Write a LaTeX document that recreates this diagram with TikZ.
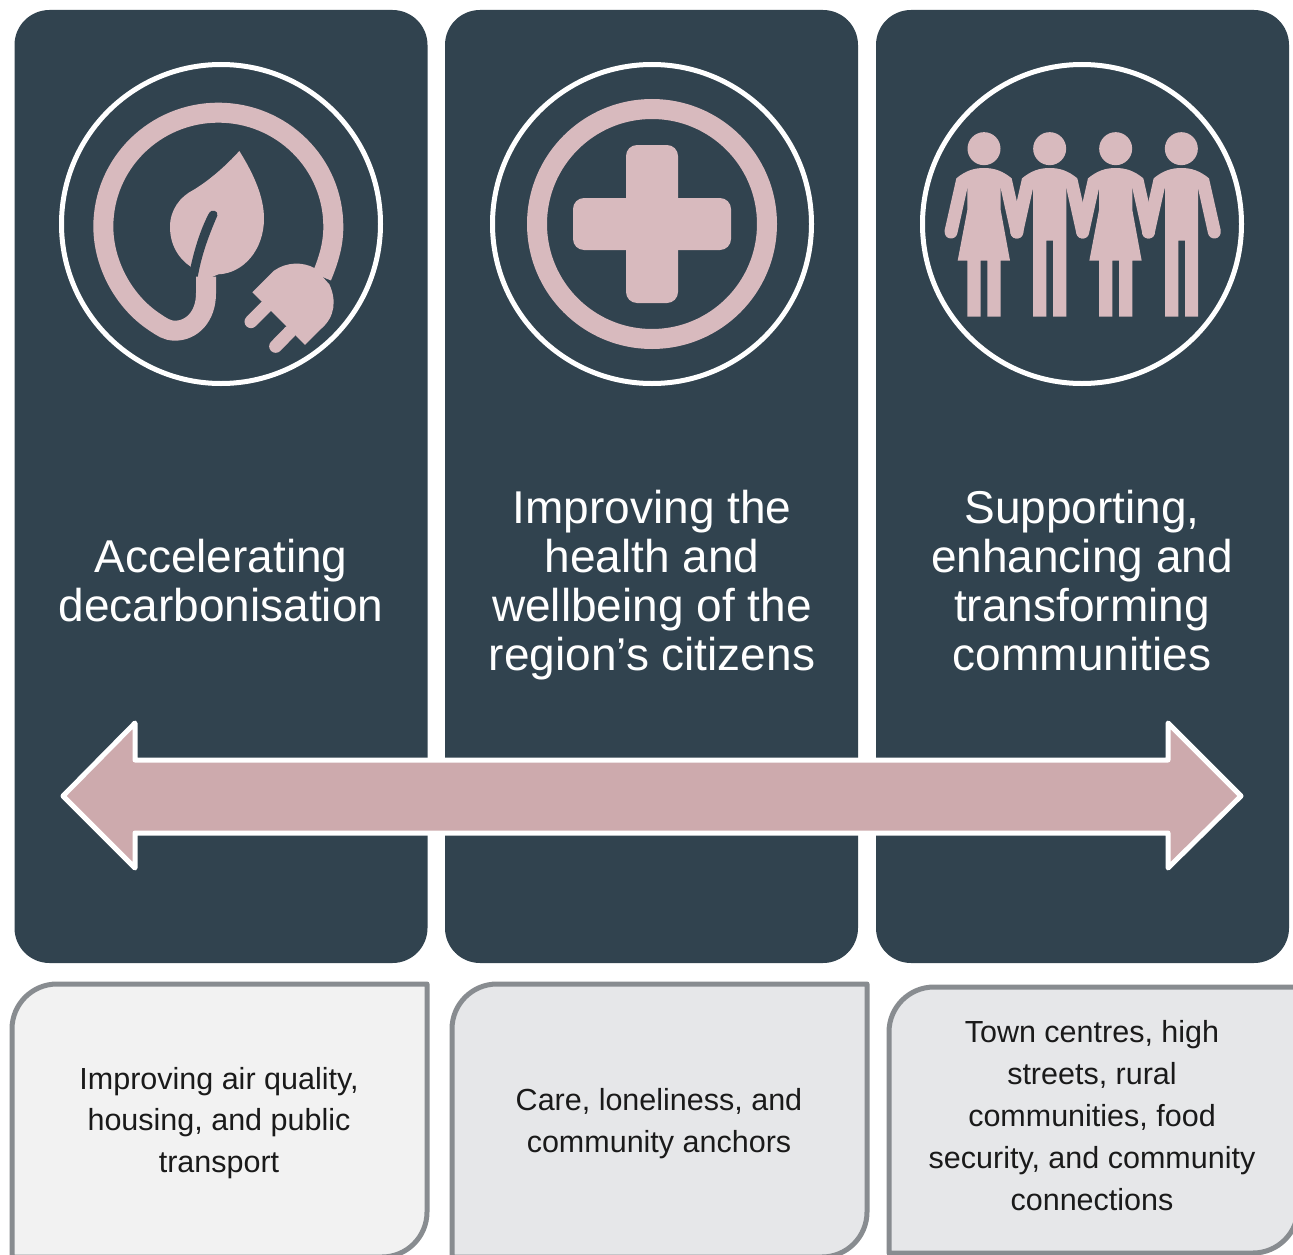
\documentclass[tikz,border=0pt]{standalone}
\usepackage{fontspec}
\setmainfont{Liberation Sans}
\definecolor{paneldark}{HTML}{31434F}
\definecolor{iconpink}{HTML}{D8BABE}
\definecolor{arrowpink}{HTML}{CDAAAD}
\definecolor{boxedge}{HTML}{888C90}
\definecolor{boxone}{HTML}{F2F2F2}
\definecolor{boxtwo}{HTML}{E6E7E9}
\definecolor{inktext}{HTML}{1A1A1A}
\tikzset{
  panel/.style={fill=paneldark,rounded corners=35pt,minimum width=413pt,minimum height=953pt,inner sep=0pt},
  ring/.style={draw=white,line width=5pt,circle,minimum size=319pt,inner sep=0pt},
  title/.style={text=white,align=center,font=\fontsize{46}{49}\selectfont,inner sep=0pt},
  blurb/.style={text=inktext,align=center,font=\fontsize{30.5}{41.8}\selectfont,inner sep=0pt},
  cardbox/.style={draw=boxedge,line width=5pt,line join=round},
  zoomed/.style={x=0.33333pt,y=-0.33333pt}
}
\newcommand{\personarms}[1]{%
  \fill[iconpink,shift={(#1,0)}] (0,296) circle (16.5pt);
  \fill[iconpink,shift={(#1,0)}] (-83,385) .. controls (-55,362) and (-30,354) .. (0,354) .. controls (30,354) and (55,362) .. (83,385)
    -- (118,540) .. controls (122,572) and (84,572) .. (80,550) -- (50,415) -- (-50,415) -- (-80,550) .. controls (-84,572) and (-122,572) .. (-118,540) -- cycle;
}
\begin{document}
\begin{tikzpicture}[x=1pt,y=-1pt]
\path[use as bounding box,clip] (0,0) rectangle (1293,1255);
\fill[white] (0,0) rectangle (1293,1255);
% panels
\node[panel] (p1) at (221,486.5) {};
\node[panel] (p2) at (651.5,486.5) {};
\node[panel] (p3) at (1082.5,486.5) {};
% rings
\node[ring] (c1) at (221,224) {};
\node[ring] (c2) at (652,224) {};
\node[ring] (c3) at (1082,224) {};
% icon 1
\begin{scope}[shift={(50,50)},zoomed]
\fill[iconpink] (568,303) .. controls (610,370) and (642,440) .. (642,505) .. controls (642,600) and (580,670) .. (505,673) -- (440,700) -- (422,650) .. controls (385,625) and (360,585) .. (360,530) .. controls (360,480) and (390,440) .. (430,420) .. controls (480,390) and (530,345) .. (568,303) -- cycle;
\fill[paneldark] (422,650) .. controls (435,590) and (455,530) .. (478,488) .. controls (483,478) and (506,480) .. (502,497) .. controls (475,560) and (452,620) .. (440,700) -- (410,700) -- cycle;
\draw[iconpink,line width=20pt] (468,680) -- (468,730) .. controls (468,800) and (425,842) .. (375,842) .. controls (350,842) and (335,830) .. (315,817) .. controls (220,755) and (160,640) .. (160,530) .. controls (160,340) and (315,188) .. (505,188) .. controls (695,188) and (850,340) .. (850,530) .. controls (850,580) and (838,625) .. (815,680);
\fill[iconpink] (607,727) -- (672,662) .. controls (710,635) and (760,635) .. (795,655) -- (838,703) .. controls (860,750) and (855,800) .. (815,835) -- (765,885) -- cycle;
\draw[iconpink,line width=13pt,line cap=round] (648,770) -- (603,815);
\draw[iconpink,line width=13pt,line cap=round] (720,845) -- (677,889);
\end{scope}
% icon 2
\draw[iconpink,line width=20pt] (652,224) circle (115pt);
\fill[iconpink,rounded corners=11pt] (626,145) rectangle (678,303);
\fill[iconpink,rounded corners=11pt] (573,198) rectangle (731,250);
% icon 3
\begin{scope}[shift={(915,50)},zoomed]
\personarms{207}
\personarms{404}
\personarms{602}
\personarms{799}
% woman
\fill[iconpink] (157,410) -- (157,480) -- (128,632) -- (157,632) -- (157,800) -- (197,800) -- (197,632) -- (217,632) -- (217,800) -- (257,800) -- (257,632) -- (285,632) -- (257,480) -- (257,410) -- cycle;
\fill[iconpink] (552,410) -- (552,480) -- (523,632) -- (552,632) -- (552,800) -- (592,800) -- (592,632) -- (612,632) -- (612,800) -- (652,800) -- (652,632) -- (680,632) -- (652,480) -- (652,410) -- cycle;
% man
\fill[iconpink] (354,410) -- (354,800) -- (394,800) -- (394,572) -- (414,572) -- (414,800) -- (454,800) -- (454,410) -- cycle;
\fill[iconpink] (750,410) -- (750,800) -- (790,800) -- (790,572) -- (810,572) -- (810,800) -- (849,800) -- (849,410) -- cycle;
\end{scope}
% titles
\node[title] (t1) at (221,581) {Accelerating\\decarbonisation};
\node[title] (t2) at (652,585) {Improving the\\health and\\wellbeing of the\\region’s citizens};
\node[title] (t3) at (1082,581) {Supporting,\\enhancing and\\transforming\\communities};
% double arrow
\fill[arrowpink] (63,796) -- (135,723) -- (135,760) -- (1168,760) -- (1168,723) -- (1241,796) -- (1168,868) -- (1168,833) -- (135,833) -- (135,868) -- cycle;
\draw[white,line width=5pt,line join=round] (63,796) -- (135,723) -- (135,760) -- (1168,760) -- (1168,723) -- (1241,796) -- (1168,868) -- (1168,833) -- (135,833) -- (135,868) -- cycle;
% cards
\draw[cardbox,fill=boxone] (12,1257) -- (12,1029) arc[start angle=180,end angle=90,radius=45pt] -- (427,984) -- (427,1212) arc[start angle=0,end angle=-90,radius=45pt] -- cycle;
\draw[cardbox,fill=boxtwo] (452,1257) -- (452,1029) arc[start angle=180,end angle=90,radius=45pt] -- (867,984) -- (867,1212) arc[start angle=0,end angle=-90,radius=45pt] -- cycle;
\draw[cardbox,fill=boxtwo] (889,1253) -- (889,1032) arc[start angle=180,end angle=90,radius=45pt] -- (1298,987) -- (1298,1208) arc[start angle=0,end angle=-90,radius=45pt] -- cycle;
\node[blurb] (b1) at (219,1123) {Improving air quality,\\housing, and public\\transport};
\node[blurb] (b2) at (659,1124) {Care, loneliness, and\\community anchors};
\node[blurb] (b3) at (1092,1115.5) {Town centres, high\\streets, rural\\communities, food\\security, and community\\connections};
\end{tikzpicture}
\end{document}
